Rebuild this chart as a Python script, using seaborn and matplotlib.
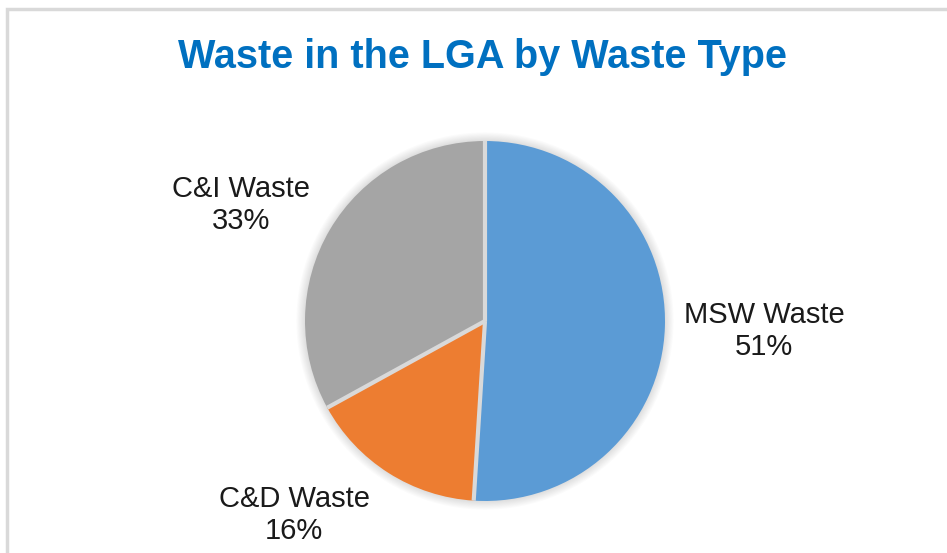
import matplotlib
matplotlib.use("Agg")
import numpy as np
import matplotlib.pyplot as plt
from matplotlib.patches import Rectangle, Circle
import seaborn as sns

labels = ["MSW Waste", "C&D Waste", "C&I Waste"]
shares = [51, 16, 33]
colors = ["#5B9BD5", "#ED7D31", "#A5A5A5"]

sns.set_theme(style="white")
plt.rcParams["font.family"] = ["Liberation Sans", "DejaVu Sans"]

fig = plt.figure(figsize=(9.47, 5.53), dpi=100)
fig.patch.set_facecolor("white")

# pie centre (485, 321) px, radius 180 px
R = 180.0
ax = fig.add_axes([85 / 947, 2 / 553, 800 / 947, 460 / 553])

# soft glow around the pie
for k in range(8):
    ax.add_patch(Circle((0, 0), 1.0 + 0.006 * (k + 1), color="black",
                        alpha=0.015, lw=0, zorder=0))

wedges, _ = ax.pie(shares, colors=colors, startangle=90, counterclock=False,
                   wedgeprops=dict(linewidth=0, zorder=2))
for w in wedges:
    t = np.deg2rad(w.theta1)
    ax.plot([0, np.cos(t)], [0, np.sin(t)], color="#d9d9d9", lw=3,
            solid_capstyle="butt", zorder=3)

ax.set_xlim(-400 / R, 400 / R)
ax.set_ylim(-230 / R, 230 / R)
ax.set_aspect("equal")
ax.axis("off")

# data labels (best-fit style placement)
label_pos = [(279 / R, -10 / R), (-191 / R, -194 / R), (-244 / R, 116 / R)]
for lab, val, (x, y) in zip(labels, shares, label_pos):
    ax.text(x, y, f"{lab}\n{val}%", ha="center", va="center",
            fontsize=21, color="#1a1a1a", linespacing=1.22)

fig.text(482 / 947, 1 - 68 / 553, "Waste in the LGA by Waste Type",
         ha="center", va="baseline", fontsize=28.5, fontweight="bold",
         color="#0070C0")

fig.patches.append(Rectangle((7 / 947, -0.1), 2, (553 - 9) / 553 + 0.1,
                             transform=fig.transFigure, fill=False,
                             edgecolor="#d9d9d9", linewidth=2.5))

fig.savefig("out.png", dpi=100)
